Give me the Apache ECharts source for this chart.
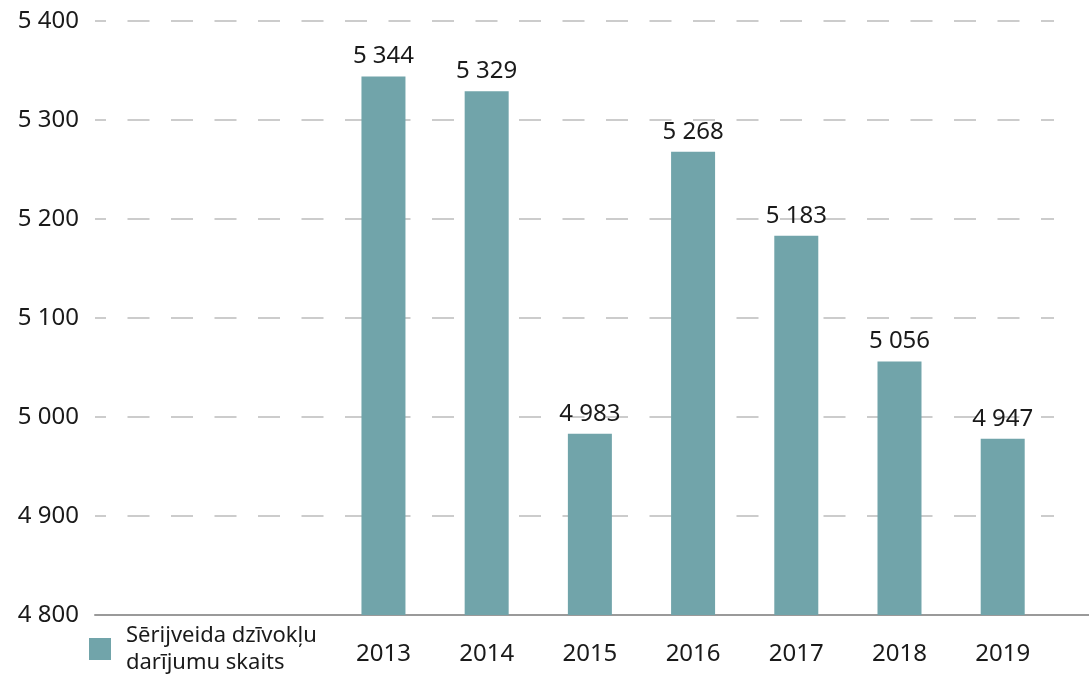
<!DOCTYPE html>
<html>
<head>
<meta charset="utf-8">
<script src="https://cdn.jsdelivr.net/npm/echarts@6/dist/echarts.min.js"></script>
<style>
  html, body { margin: 0; padding: 0; background: #fff; }
  #chart { width: 1089px; height: 675px; }
</style>
</head>
<body>
<div id="chart"></div>
<script>
// dati
const years = [2013, 2014, 2015, 2016, 2017, 2018, 2019]
const values = [5344, 5329, 4983, 5268, 5183, 5056, 4978] // stabiņu augstums
const valueLabels = ['5 344', '5 329', '4 983', '5 268', '5 183', '5 056', '4 947'] // uzraksti virs stabiņiem
const yTicks = [4800, 4900, 5000, 5100, 5200, 5300, 5400]
const seriesName = 'Sērijveida dzīvokļu\ndarījumu skaits'

const fontFamily = '"Noto Sans", sans-serif'
const textColor = '#1a1a1a'
const barColor = '#71a4aa'

// 5400 -> "5 400"
function fmt(v) {
  return String(v).replace(/\B(?=(\d{3})+(?!\d))/g, ' ')
}

const chart = echarts.init(document.getElementById('chart'), null, {renderer: 'canvas'})

const option = {
  animation: false,
  textStyle: {fontFamily: fontFamily},
  grid: [
    {left: 95, right: 35, top: 21, bottom: 60},
    {left: 95, right: 0, top: 21, bottom: 60}
  ],
  legend: {
    left: 84,
    top: 617,
    icon: 'rect',
    itemWidth: 22,
    itemHeight: 22,
    textStyle: {
      fontSize: 22,
      lineHeight: 27,
      color: textColor,
      fontFamily: fontFamily,
      padding: [0, 0, 0, 10]
    },
    data: [seriesName]
  },
  xAxis: [
    {
      type: 'value',
      gridIndex: 0,
      min: 2010.205,
      max: 2019.497,
      axisLine: {show: false},
      axisTick: {show: false},
      splitLine: {show: false},
      axisLabel: {
        customValues: years,
        margin: 27,
        fontSize: 24,
        color: textColor,
        fontFamily: fontFamily,
        formatter: v => String(v)
      }
    },
    {
      type: 'value',
      gridIndex: 1,
      min: 0,
      max: 1,
      axisLine: {show: true, lineStyle: {color: '#9a9a9a', width: 2}},
      axisTick: {show: false},
      axisLabel: {show: false},
      splitLine: {show: false}
    }
  ],
  yAxis: [
    {
      type: 'value',
      gridIndex: 0,
      min: yTicks[0],
      max: yTicks[yTicks.length - 1],
      interval: 100,
      axisLine: {show: false},
      axisTick: {show: false},
      axisLabel: {
        margin: 16,
        fontSize: 24,
        color: textColor,
        fontFamily: fontFamily,
        formatter: v => fmt(v)
      },
      splitLine: {
        show: true,
        lineStyle: {color: '#cccccc', width: 2, type: [22, 21.5], dashOffset: 11}
      }
    },
    {
      type: 'value',
      gridIndex: 1,
      min: 0,
      max: 1,
      show: false
    }
  ],
  series: [
    {
      name: seriesName,
      type: 'bar',
      xAxisIndex: 0,
      yAxisIndex: 0,
      barWidth: 44,
      itemStyle: {color: barColor},
      label: {
        show: true,
        position: 'top',
        distance: 8,
        fontSize: 24,
        color: textColor,
        fontFamily: fontFamily,
        formatter: p => valueLabels[p.dataIndex]
      },
      data: years.map((y, i) => [y, values[i]])
    }
  ]
}

chart.setOption(option)
</script>
</body>
</html>
